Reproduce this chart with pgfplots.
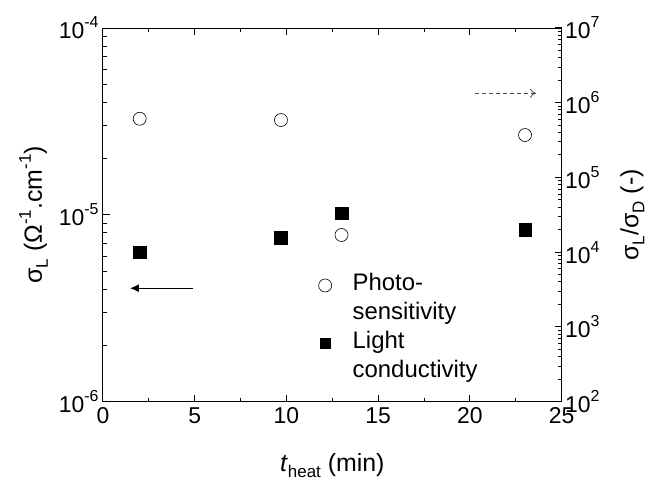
\documentclass[border=0pt]{standalone}
\usepackage{pgfplots}
\pgfplotsset{compat=1.18}
\usepackage{fontspec}
\setmainfont{Liberation Sans}
\usetikzlibrary{arrows.meta}
\newcommand\tsup[1]{\raisebox{11bp}{\fontsize{16}{16}\selectfont #1}}
\newcommand\lsup[1]{\raisebox{11bp}{\fontsize{17}{17}\selectfont #1}}
\newcommand\lsub[1]{\raisebox{-6bp}{\fontsize{17}{17}\selectfont #1}}

\begin{document}
\begin{tikzpicture}
\pgfplotsset{
  common/.style={
    scale only axis, width=458.7bp, height=373.7bp,
    xmin=0, xmax=25,
    tick align=inside,
    major tick length=7bp, minor tick length=4bp,
    axis line style={line width=1bp},
    every tick/.style={line width=1bp, black},
    tick label style={font=\fontsize{23}{26}\selectfont},
    label style={font=\fontsize{25}{28}\selectfont},
  }
}
\begin{axis}[
  common,
  name=main,
  ymode=log, ymin=1e-6, ymax=1e-4,
  xtick={0,5,10,15,20,25}, xticklabels={0,5,10,15,20,25},
  minor xtick={2.5,7.5,12.5,17.5,22.5},
  xtick pos=both, xticklabel pos=lower,
  ytick={1e-6,1e-5,1e-4},
  yticklabels={10\tsup{-6},10\tsup{-5},10\tsup{-4}},
  minor ytick={2e-6,3e-6,4e-6,5e-6,6e-6,7e-6,8e-6,9e-6,2e-5,3e-5,4e-5,5e-5,6e-5,7e-5,8e-5,9e-5},
  ytick pos=left,
  yticklabel style={xshift=-1bp},
  xticklabel style={yshift=-2bp},
  xlabel={\textit{t}\lsub{heat} (min)},
  ylabel={σ\lsub{L} (Ω\lsup{-1}.cm\lsup{-1})},
  xlabel style={yshift=-23bp},
  ylabel style={yshift=4bp},
]
\addplot[only marks, mark=square*, mark size=6.3bp, black] coordinates {
  (2,6.3e-6) (9.7,7.55e-6) (13,1.02e-5) (23,8.3e-6)
};
\draw[-{Latex[length=9bp,width=8bp]}, line width=1bp] (axis cs:4.9,4.05e-6) -- (axis cs:1.47,4.05e-6);
\end{axis}
\begin{axis}[
  common,
  ymode=log, ymin=1e2, ymax=1e7,
  axis x line=none,
  axis y line*=right,
  ytick={1e2,1e3,1e4,1e5,1e6,1e7},
  yticklabels={10\tsup{2},10\tsup{3},10\tsup{4},10\tsup{5},10\tsup{6},10\tsup{7}},
  minor ytick={2e2,3e2,4e2,5e2,6e2,7e2,8e2,9e2,2e3,3e3,4e3,5e3,6e3,7e3,8e3,9e3,2e4,3e4,4e4,5e4,6e4,7e4,8e4,9e4,2e5,3e5,4e5,5e5,6e5,7e5,8e5,9e5,2e6,3e6,4e6,5e6,6e6,7e6,8e6,9e6},
  ytick pos=right, yticklabel pos=right,
  ylabel={σ\lsub{L}/σ\lsub{D} (-)},
  ylabel shift=14bp,
  legend style={at={(0.4654,0.345)}, anchor=north west, draw=none, fill=none,
    inner sep=0pt, font=\fontsize{24}{28}\selectfont, row sep=4bp,
    nodes={inner sep=0pt, text height=18bp, text depth=7bp},
    /tikz/every odd column/.append style={column sep=21bp}},
  legend cell align=left,
]
\addplot[only marks, mark=o, mark size=6.5bp, black, line width=0.6bp] coordinates {
  (2,6.1e5) (9.7,5.87e5) (13,1.7e4) (23,3.7e5)
};
\addlegendentry{Photo-}
\addlegendimage{empty legend}
\addlegendentry{sensitivity}
\addlegendimage{only marks, mark=square*, mark size=5bp, black}
\addlegendentry{Light}
\addlegendimage{empty legend}
\addlegendentry{conductivity}
\draw[dashed, dash pattern=on 4bp off 3bp, -{To[length=6bp,width=9bp]}, line width=0.8bp, black!70] (axis cs:20.3,1.34e6) -- (axis cs:23.6,1.34e6);
\end{axis}
\pgfresetboundingbox
\path (main.south west) ++(-103bp,-78.3bp) rectangle ++(655bp,480bp);
\end{tikzpicture}
\end{document}
